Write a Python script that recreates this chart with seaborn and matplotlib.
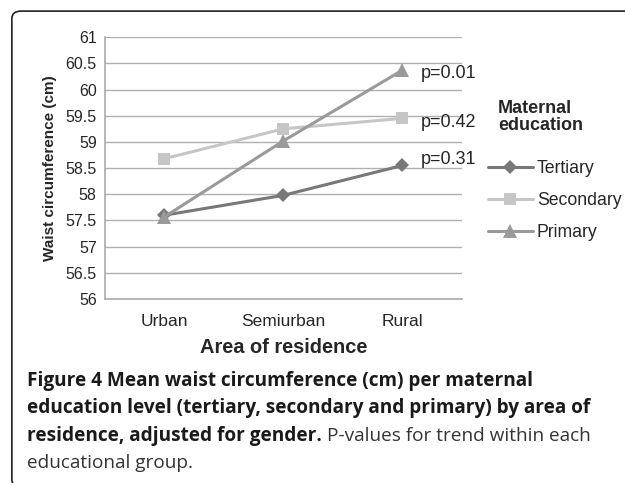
import numpy as np
import pandas as pd
import seaborn as sns
import matplotlib.pyplot as plt
from matplotlib.patches import FancyBboxPatch

areas = ["Urban", "Semiurban", "Rural"]
groups = ["Tertiary", "Secondary", "Primary"]
tertiary = [57.60, 57.98, 58.55]
secondary = [58.68, 59.25, 59.45]
primary = [57.57, 59.02, 60.37]
pvalues = ["p=0.31", "p=0.42", "p=0.01"]

df = pd.DataFrame({
    "area": areas * 3,
    "group": np.repeat(groups, 3),
    "waist": tertiary + secondary + primary,
})
df["x"] = df["area"].map({a: i for i, a in enumerate(areas)})

sns.set_style("white")
plt.rcParams["font.family"] = ["Liberation Sans", "DejaVu Sans"]

fig = plt.figure(figsize=(6.25, 4.83), dpi=100)
ax = fig.add_axes([0.168, 0.381, 0.571, 0.542])

palette = {"Tertiary": "#787878", "Secondary": "#c6c6c6", "Primary": "#9a9a9a"}
markers = {"Tertiary": "D", "Secondary": "s", "Primary": "^"}
sizes = {"Tertiary": 7, "Secondary": 9, "Primary": 9.5}
for g in groups:
    sub = df[df["group"] == g]
    sns.lineplot(data=sub, x="x", y="waist", ax=ax, color=palette[g], lw=2.2,
                 marker=markers[g], markersize=sizes[g], markeredgewidth=0,
                 label=g, legend=False)

ax.set_xlim(-0.5, 2.5)
ax.set_ylim(56, 61)
yt = np.arange(56, 61.01, 0.5)
ax.set_yticks(yt)
ax.set_yticklabels([f"{v:g}" for v in yt], fontsize=11.5)
ax.set_xticks(range(3))
ax.set_xticklabels(areas, fontsize=12.5)
ax.set_xticks([-0.5, 0.5, 1.5, 2.5], minor=True)
ax.tick_params(axis="x", which="major", length=0, pad=11)
ax.tick_params(axis="x", which="minor", length=5, color="#999999")
ax.tick_params(axis="y", length=4, color="#999999", pad=2)
ax.grid(axis="y", color="#b0b0b0", lw=1)
for s in ["top", "right"]:
    ax.spines[s].set_visible(False)
for s in ["left", "bottom"]:
    ax.spines[s].set_color("#aaaaaa")
    ax.spines[s].set_linewidth(1.2)
ax.set_xlabel("Area of residence", fontsize=14.4, fontweight="bold", labelpad=6)
ax.set_ylabel("Waist circumference (cm)", fontsize=11, fontweight="bold", labelpad=6)

ends = [tertiary[-1], secondary[-1], primary[-1]]
offs = [0.12, -0.07, -0.06]
for e, p, o in zip(ends, pvalues, offs):
    ax.text(2.155, e + o, p, fontsize=13, va="center", ha="left")

handles, labels = ax.get_legend_handles_labels()
leg = fig.legend(handles, labels, loc="upper left", bbox_to_anchor=(0.78, 0.668),
                 frameon=False, fontsize=12.7, handlelength=2.6, handletextpad=0.2,
                 labelspacing=0.85, borderaxespad=0, borderpad=0)
fig.text(0.797, 0.758, "Maternal\neducation", fontsize=13, fontweight="bold",
         va="center", ha="left", linespacing=1.05)

# rounded frame around the figure (only top and left edges show)
frame = FancyBboxPatch((0.019, -0.008), 1.2, 0.985,
                       boxstyle="round,pad=0,rounding_size=0.015",
                       transform=fig.transFigure, fill=False, ec="#222222", lw=1.2)
fig.patches.append(frame)

cap = ["Open Sans", "DejaVu Sans"]
fs = 13.7
fig.text(0.043, 0.211, "Figure 4 Mean waist circumference (cm) per maternal",
         fontsize=fs, fontweight="bold", family=cap, va="center", color="#1a1a1a")
fig.text(0.043, 0.155, "education level (tertiary, secondary and primary) by area of",
         fontsize=fs, fontweight="bold", family=cap, va="center", color="#1a1a1a")
t = fig.text(0.043, 0.098, "residence, adjusted for gender.",
             fontsize=fs, fontweight="bold", family=cap, va="center", color="#1a1a1a")
fig.canvas.draw()
bb = t.get_window_extent().transformed(fig.transFigure.inverted())
fig.text(bb.x1 + 0.008, 0.098, "P-values for trend within each",
         fontsize=fs, family=cap, va="center", color="#333333")
fig.text(0.043, 0.042, "educational group.", fontsize=fs, family=cap,
         va="center", color="#333333")

fig.savefig("out.png", dpi=100)
